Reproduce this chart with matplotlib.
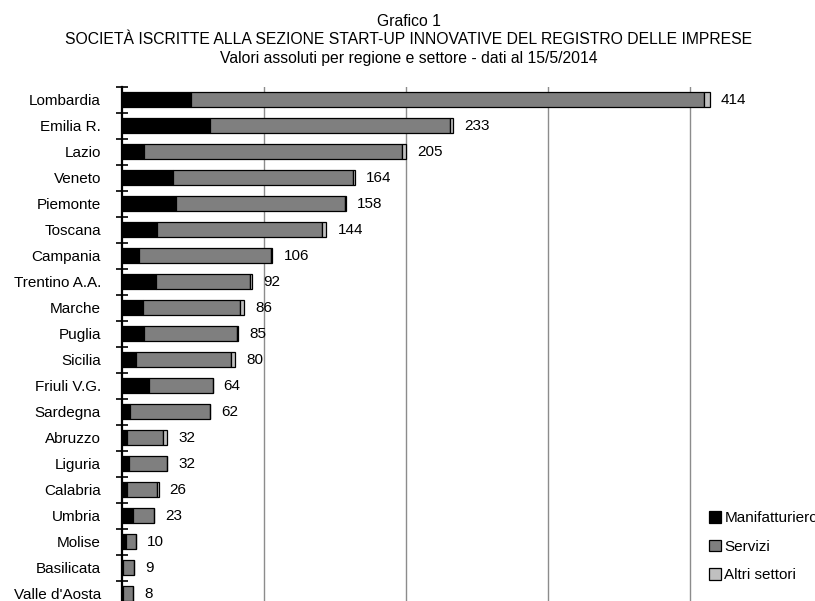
import matplotlib
matplotlib.use("Agg")
import matplotlib.pyplot as plt
import numpy as np

plt.rcParams['font.family'] = ['Liberation Sans', 'DejaVu Sans']

regioni = ["Lombardia", "Emilia R.", "Lazio", "Veneto", "Piemonte", "Toscana",
           "Campania", "Trentino A.A.", "Marche", "Puglia", "Sicilia", "Friuli V.G.",
           "Sardegna", "Abruzzo", "Liguria", "Calabria", "Umbria", "Molise",
           "Basilicata", "Valle d'Aosta"]
manifatturiero = [49, 62, 16, 36, 38, 25, 12, 24, 15, 16, 10, 19, 6, 4, 5, 4, 8, 3, 1, 1]
servizi = [361, 169, 181, 127, 119, 116, 93, 66, 68, 65, 67, 45, 56, 25, 27, 21, 15, 7, 8, 7]
altri = [4, 2, 3, 1, 1, 3, 1, 2, 3, 1, 3, 0, 0, 3, 0, 1, 0, 0, 0, 0]
totali = [414, 233, 205, 164, 158, 144, 106, 92, 86, 85, 80, 64, 62, 32, 32, 26, 23, 10, 9, 8]

fig = plt.figure(figsize=(8.15, 6.01), dpi=100)
ax = fig.add_axes([0.1493, -0.0095, 0.8718, 0.8652])

y = np.arange(len(regioni))
man = np.array(manifatturiero)
ser = np.array(servizi)
alt = np.array(altri)
h = 0.56
ax.barh(y, man, height=h, color="black", edgecolor="black", linewidth=0.9, label="Manifatturiero", zorder=3)
ax.barh(y, ser, left=man, height=h, color="#7f7f7f", edgecolor="black", linewidth=0.9, label="Servizi", zorder=3)
ax.barh(y, alt, left=man + ser, height=h, color="#c0c0c0", edgecolor="black", linewidth=0.9, label="Altri settori", zorder=3)

# etichette con i totali, a destra delle barre
fine = man + ser + alt
for yi, xi, t in zip(y, fine, totali):
    ax.annotate(str(t), (xi, yi), xytext=(8, 0), textcoords="offset points",
                va="center", ha="left", fontsize=11)

ax.set_xlim(0, 500)
ax.set_ylim(len(regioni) - 0.5, -0.5)
ax.set_xticks([100, 200, 300, 400])
ax.xaxis.grid(True, color="#8c8c8c", linewidth=1)
ax.set_axisbelow(True)
ax.tick_params(axis="x", length=0, labelbottom=False)
ax.set_yticks(y)
ax.set_yticklabels(regioni, fontsize=11)
ax.set_yticks(np.arange(len(regioni)) - 0.5, minor=True)
ax.tick_params(axis="y", which="major", length=0, pad=15)
ax.tick_params(axis="y", which="minor", direction="inout", length=9, width=1.2)
for s in ["top", "right", "bottom"]:
    ax.spines[s].set_visible(False)
ax.spines["left"].set_linewidth(1.6)

xc = 409 / 815
fig.text(xc, 1 - 26.5 / 601, "Grafico 1", ha="center", va="baseline", fontsize=11.3)
fig.text(xc, 1 - 44.3 / 601, "SOCIETÀ ISCRITTE ALLA SEZIONE START-UP INNOVATIVE DEL REGISTRO DELLE IMPRESE",
         ha="center", va="baseline", fontsize=11.3)
fig.text(xc, 1 - 62.5 / 601, "Valori assoluti per regione e settore - dati al 15/5/2014",
         ha="center", va="baseline", fontsize=11.3)

fig.legend(loc="upper left", bbox_to_anchor=(709 / 815, 1 - 511 / 601), frameon=False,
           fontsize=11, handlelength=0.8, handleheight=0.8, handletextpad=0.2,
           labelspacing=0.95, borderpad=0, borderaxespad=0)

fig.savefig("out.png", dpi=100)
